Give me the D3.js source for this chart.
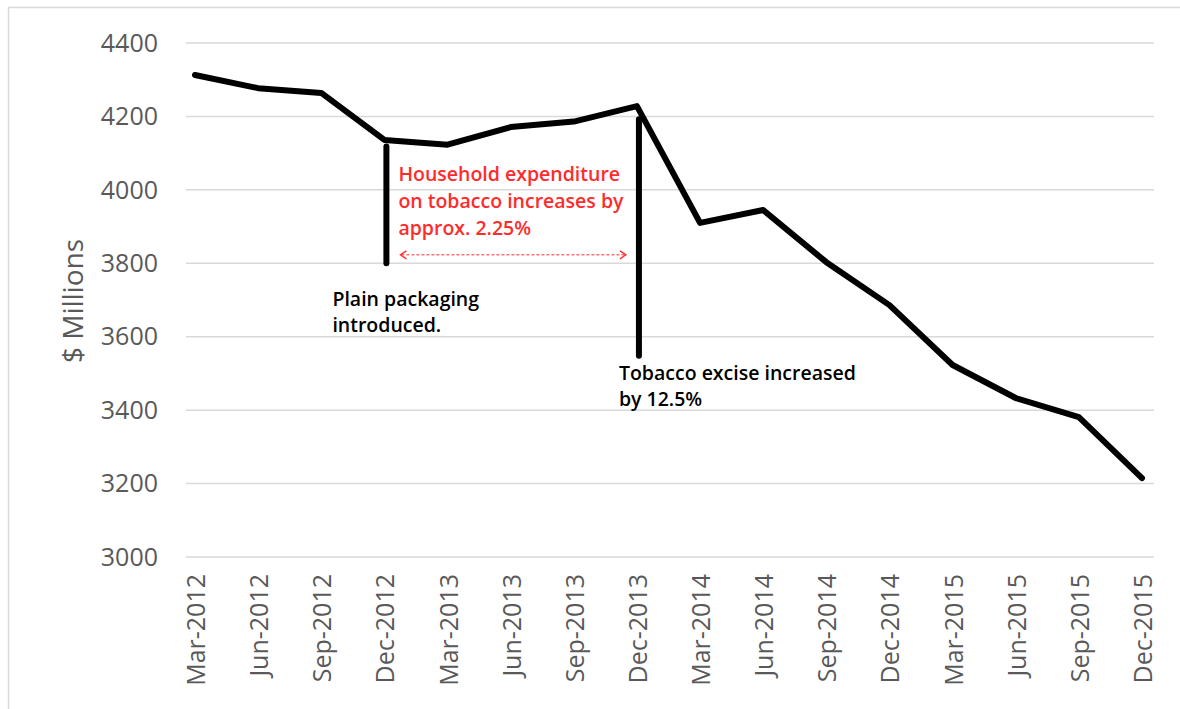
<!DOCTYPE html>
<html lang="en">
<head>
    <meta charset="UTF-8">
    <title>Household expenditure on tobacco</title>
    <script src="https://d3js.org/d3.v7.min.js"></script>
    <style>
        body { margin: 0; background: #fff; }
        svg { display: block; }
        .grid line { stroke: #d9d9d9; stroke-width: 1.5; }
        .tick-label { font-family: "Open Sans", sans-serif; fill: #595959; }
        .note { font-family: "Open Sans", sans-serif; font-weight: 600; font-size: 19.5px; }
    </style>
</head>
<body>
    <svg id="chart" width="1180" height="709"></svg>

    <script>
        // quarters on the x axis
        const quarters = ["Mar-2012", "Jun-2012", "Sep-2012", "Dec-2012", "Mar-2013", "Jun-2013",
            "Sep-2013", "Dec-2013", "Mar-2014", "Jun-2014", "Sep-2014", "Dec-2014",
            "Mar-2015", "Jun-2015", "Sep-2015", "Dec-2015"];
        // household expenditure on tobacco, $ millions
        const spending = [4313, 4277, 4264, 4136, 4123, 4171, 4186, 4228,
            3910, 3945, 3803, 3686, 3523, 3433, 3381, 3215];
        const yTicks = [3000, 3200, 3400, 3600, 3800, 4000, 4200, 4400];

        // event markers: quarter, top and bottom of the bar (in $ millions)
        const events = [
            { quarter: "Dec-2012", from: 4118, to: 3800, label: ["Plain packaging", "introduced."] },
            { quarter: "Dec-2013", from: 4192, to: 3548, label: ["Tobacco excise increased", "by 12.5%"] }
        ];
        const redNote = ["Household expenditure", "on tobacco increases by", "approx. 2.25%"];

        const svg = d3.select("#chart");

        const x = d3.scalePoint().domain(quarters).range([195, 1142]);
        const y = d3.scaleLinear().domain([3000, 4400]).range([557, 43]);

        // outer frame
        svg.append("rect")
            .attr("x", 8.5).attr("y", 7.5)
            .attr("width", 1200).attr("height", 720)
            .attr("fill", "none").attr("stroke", "#d9d9d9").attr("stroke-width", 1.5);

        // horizontal gridlines
        svg.append("g").attr("class", "grid")
            .selectAll("line")
            .data(yTicks)
            .join("line")
            .attr("x1", 186).attr("x2", 1154)
            .attr("y1", d => y(d)).attr("y2", d => y(d));

        // y tick labels
        svg.append("g")
            .selectAll("text")
            .data(yTicks)
            .join("text")
            .attr("class", "tick-label")
            .attr("x", 158)
            .attr("y", d => y(d))
            .attr("dy", "0.35em")
            .attr("text-anchor", "end")
            .attr("font-size", 25)
            .text(d => d);

        // y axis title
        svg.append("text")
            .attr("class", "tick-label")
            .attr("transform", "translate(83,301) rotate(-90)")
            .attr("text-anchor", "middle")
            .attr("font-size", 28)
            .text("$ Millions");

        // x tick labels, rotated
        svg.append("g")
            .selectAll("text")
            .data(quarters)
            .join("text")
            .attr("class", "tick-label")
            .attr("font-size", 25)
            .attr("text-anchor", "end")
            .attr("transform", d => `translate(${x(d) + 10},574) rotate(-90)`)
            .text(d => d);

        // the series line
        const line = d3.line()
            .x((d, i) => x(quarters[i]))
            .y(d => y(d));

        svg.append("path")
            .datum(spending)
            .attr("d", line)
            .attr("fill", "none")
            .attr("stroke", "#000")
            .attr("stroke-width", 6)
            .attr("stroke-linejoin", "round")
            .attr("stroke-linecap", "round");

        // event bars
        svg.append("g")
            .selectAll("line")
            .data(events)
            .join("line")
            .attr("x1", d => x(d.quarter) + 2).attr("x2", d => x(d.quarter) + 2)
            .attr("y1", d => y(d.from)).attr("y2", d => y(d.to))
            .attr("stroke", "#000")
            .attr("stroke-width", 6)
            .attr("stroke-linecap", "round");

        // event labels
        const ppX = x("Dec-2012"), exX = x("Dec-2013");
        svg.append("text").attr("class", "note").attr("fill", "#000")
            .attr("x", ppX - 52).attr("y", y(3800) + 43)
            .selectAll("tspan")
            .data(events[0].label)
            .join("tspan")
            .attr("x", ppX - 52)
            .attr("dy", (d, i) => i ? 26 : 0)
            .text(d => d);

        svg.append("text").attr("class", "note").attr("fill", "#000")
            .attr("x", exX - 18).attr("y", y(3600) + 43)
            .selectAll("tspan")
            .data(events[1].label)
            .join("tspan")
            .attr("x", exX - 18)
            .attr("dy", (d, i) => i ? 26 : 0)
            .text(d => d);

        // red note and the dashed double arrow between the two events
        svg.append("text").attr("class", "note").attr("fill", "#ff2b2b")
            .attr("x", ppX + 14).attr("y", y(4000) - 9)
            .selectAll("tspan")
            .data(redNote)
            .join("tspan")
            .attr("x", ppX + 14)
            .attr("dy", (d, i) => i ? 27 : 0)
            .text(d => d);

        const arrowY = y(3823);
        svg.append("line")
            .attr("x1", ppX + 17).attr("x2", exX - 12)
            .attr("y1", arrowY).attr("y2", arrowY)
            .attr("stroke", "#ff2b2b").attr("stroke-width", 1)
            .attr("stroke-dasharray", "3,2");
        svg.append("path")
            .attr("d", `M${ppX + 22},${arrowY - 4} L${ppX + 16},${arrowY} L${ppX + 22},${arrowY + 4}`
                + ` M${exX - 17},${arrowY - 4} L${exX - 11},${arrowY} L${exX - 17},${arrowY + 4}`)
            .attr("fill", "none").attr("stroke", "#ff2b2b").attr("stroke-width", 1.3);
    </script>
</body>
</html>
